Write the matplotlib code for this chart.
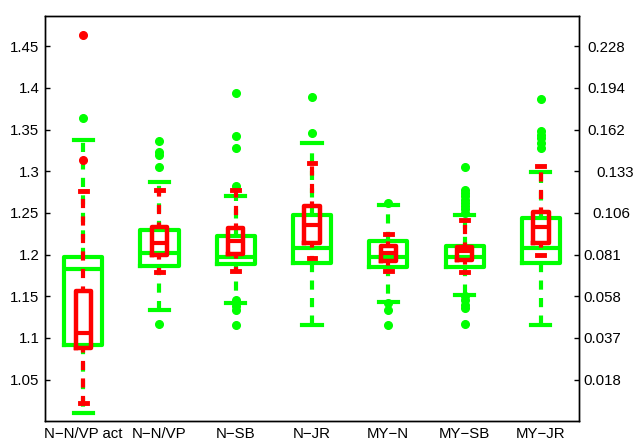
import matplotlib
matplotlib.use('Agg')
import matplotlib.pyplot as plt
from matplotlib.transforms import ScaledTranslation

plt.rcParams['font.family'] = ['Liberation Sans', 'DejaVu Sans']

categories = ['N\u2212N/VP act', 'N\u2212N/VP', 'N\u2212SB', 'N\u2212JR',
              'MY\u2212N', 'MY\u2212SB', 'MY\u2212JR']

# green boxes
green_whislo = [1.0096, 1.1336, 1.1416, 1.1156, 1.1436, 1.1516, 1.1156]
green_q1 = [1.0916, 1.1861, 1.1886, 1.1904, 1.1848, 1.1856, 1.1904]
green_med = [1.1824, 1.2022, 1.1975, 1.2076, 1.1976, 1.1968, 1.2076]
green_q3 = [1.1975, 1.2300, 1.2225, 1.2476, 1.2164, 1.2104, 1.2436]
green_whishi = [1.3370, 1.2876, 1.2704, 1.3336, 1.2596, 1.2476, 1.2996]
green_fliers = [
    [1.364],
    [1.117, 1.305, 1.319, 1.323, 1.336],
    [1.116, 1.134, 1.138, 1.146, 1.282, 1.328, 1.342, 1.394],
    [1.346, 1.389],
    [1.116, 1.134, 1.142, 1.262],
    [1.117, 1.136, 1.140, 1.145, 1.150, 1.250, 1.255, 1.258, 1.262,
     1.266, 1.270, 1.274, 1.278, 1.305],
    [1.328, 1.334, 1.340, 1.344, 1.348, 1.387],
]

# red boxes
red_whislo = [1.0224, 1.1795, 1.1808, 1.1956, 1.1808, 1.1795, 1.1996]
red_q1 = [1.0876, 1.1992, 1.2008, 1.2136, 1.1924, 1.1936, 1.2136]
red_med = [1.1056, 1.2136, 1.2167, 1.2356, 1.2024, 1.2046, 1.2335]
red_q3 = [1.1567, 1.2335, 1.2320, 1.2584, 1.2107, 1.2088, 1.2516]
red_whishi = [1.2760, 1.2776, 1.2776, 1.3096, 1.2244, 1.2416, 1.3064]
red_fliers = [[1.313, 1.464], [], [], [], [], [], []]

left_ticks = [1.05, 1.10, 1.15, 1.20, 1.25, 1.30, 1.35, 1.40, 1.45]
left_labels = ['1.05', '1.1', '1.15', '1.2', '1.25', '1.3', '1.35', '1.4', '1.45']
right_labels = ['0.018', '0.037', '0.058', '0.081', '0.106', '0.133',
                '0.162', '0.194', '0.228']
right_label_shift_px = [0, 0, 0, 0, 9, 13, 4, 4, 4]

GREEN = (0, 1, 0)
RED = (1, 0, 0)
FS = 10.8


def stats(lo, q1, med, q3, hi, fl):
    return [dict(whislo=a, q1=b, med=c, q3=d, whishi=e, fliers=f)
            for a, b, c, d, e, f in zip(lo, q1, med, q3, hi, fl)]


fig = plt.figure(figsize=(6.36, 4.40), dpi=100)
ax = fig.add_axes([0.0708, 0.0425, 0.8396, 0.9218])
positions = list(range(1, len(categories) + 1))
dash = (0, (2.2, 2.0))

ax.bxp(stats(green_whislo, green_q1, green_med, green_q3, green_whishi, green_fliers),
       positions=positions, widths=0.5, capwidths=0.25, manage_ticks=False,
       boxprops=dict(color=GREEN, linewidth=3),
       medianprops=dict(color=GREEN, linewidth=3),
       whiskerprops=dict(color=GREEN, linewidth=3, linestyle=dash),
       capprops=dict(color=GREEN, linewidth=3),
       flierprops=dict(marker='o', markerfacecolor=GREEN, markeredgecolor=GREEN,
                       markersize=5.5, linestyle='none'),
       zorder=2)

ax.bxp(stats(red_whislo, red_q1, red_med, red_q3, red_whishi, red_fliers),
       positions=positions, widths=0.2, capwidths=0.09, manage_ticks=False,
       boxprops=dict(color=RED, linewidth=3.2),
       medianprops=dict(color=RED, linewidth=3),
       whiskerprops=dict(color=RED, linewidth=3, linestyle=(1.1, (2.2, 2.0))),
       capprops=dict(color=RED, linewidth=3.5),
       flierprops=dict(marker='o', markerfacecolor=RED, markeredgecolor=RED,
                       markersize=5.5, linestyle='none'),
       zorder=3)

ax.set_xlim(0.5, 7.5)
ax.set_ylim(1.0, 1.4867)
ax.set_xticks(positions)
ax.set_xticklabels(categories, fontsize=FS)
ax.set_yticks(left_ticks)
ax.set_yticklabels(left_labels, fontsize=FS)
ax.tick_params(axis='y', direction='in', length=3.6, width=1, pad=4)
ax.tick_params(axis='x', length=0, pad=4)
for s in ax.spines.values():
    s.set_linewidth(1.0)
    s.set_color('black')

ax2 = ax.twinx()
ax2.set_ylim(ax.get_ylim())
ax2.set_yticks(left_ticks)
ax2.set_yticklabels(right_labels, fontsize=FS)
ax2.tick_params(axis='y', direction='in', length=3.6, width=1, pad=3)
for s in ax2.spines.values():
    s.set_linewidth(1.0)

fig.canvas.draw()
for tick, dx in zip(ax2.yaxis.get_major_ticks(), right_label_shift_px):
    lab = tick.label2
    lab.set_transform(lab.get_transform() + ScaledTranslation(dx / 100.0, 0, fig.dpi_scale_trans))

fig.savefig('out.png', dpi=100)
